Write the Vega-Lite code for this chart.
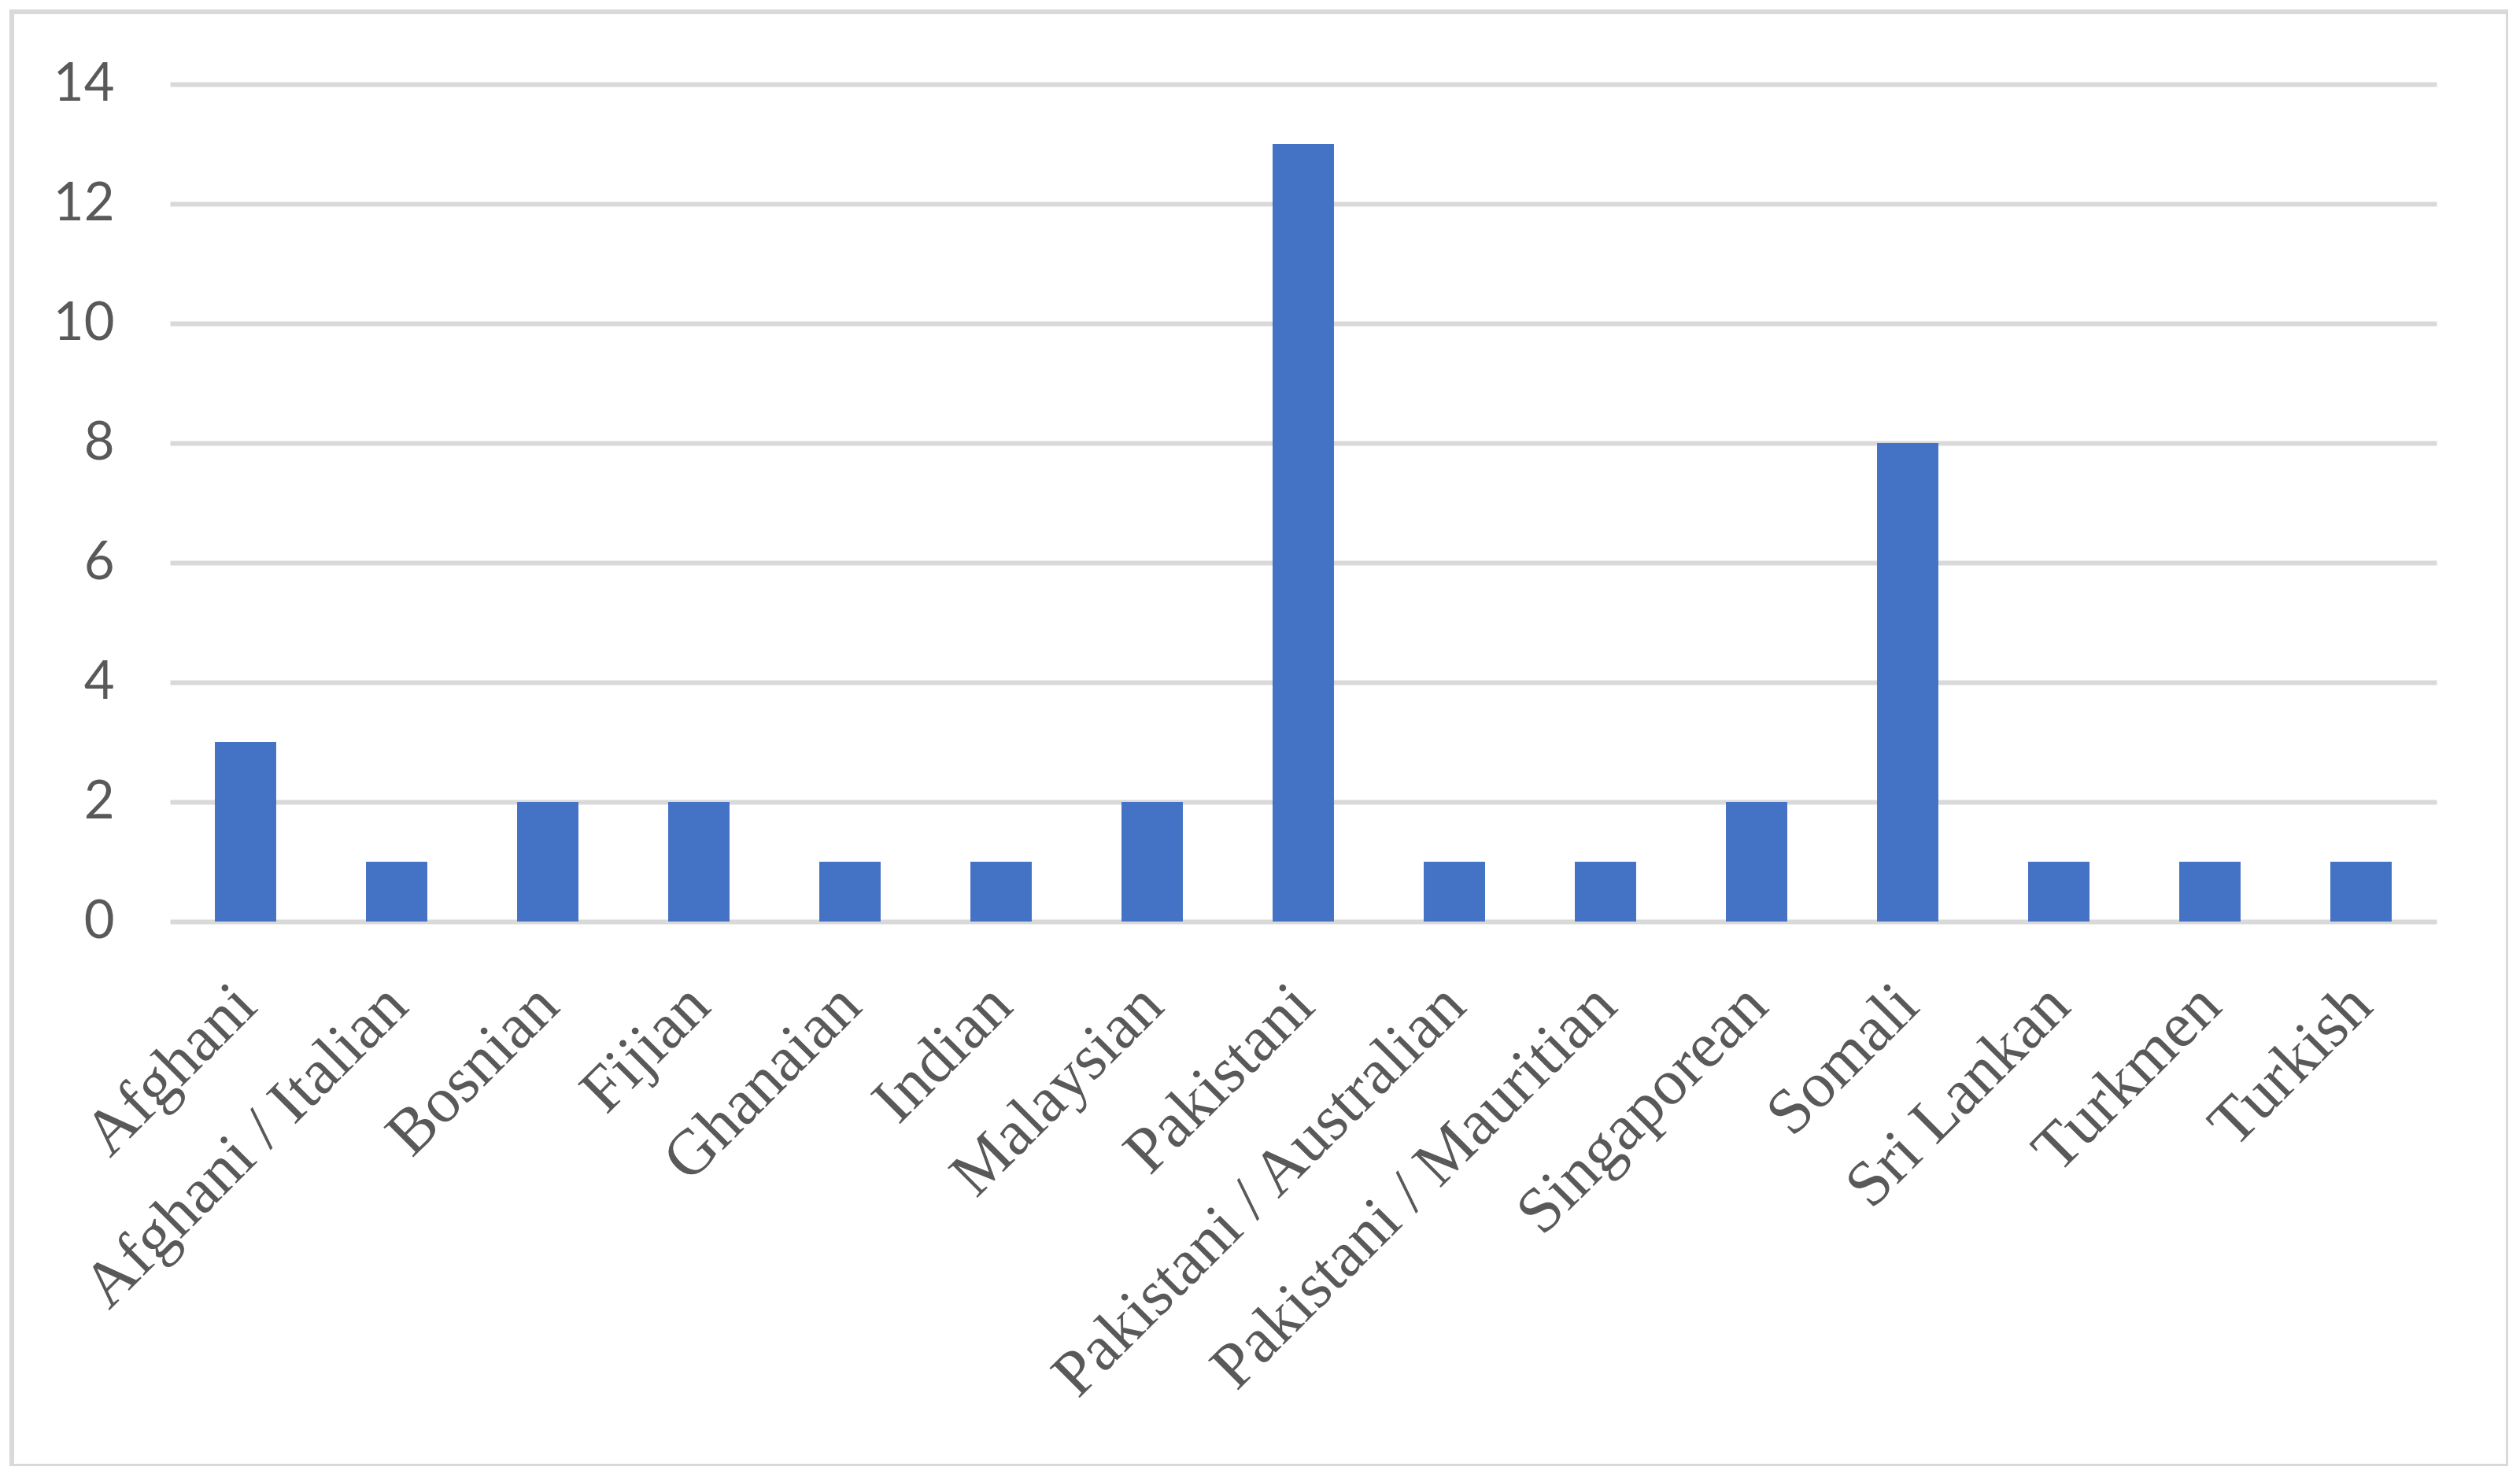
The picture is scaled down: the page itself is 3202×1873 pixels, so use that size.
{
  "$schema": "https://vega.github.io/schema/vega-lite/v6.json",
  "autosize": "none",
  "padding": {"left": 15, "top": 15, "right": 0, "bottom": 0},
  "width": 3172,
  "height": 1848,
  "background": "white",
  "config": {"view": {"stroke": "#d9d9d9", "strokeWidth": 6}},
  "data": {"values": [
    {"nationality": "Afghani", "count": 3},
    {"nationality": "Afghani / Italian", "count": 1},
    {"nationality": "Bosnian", "count": 2},
    {"nationality": "Fijian", "count": 2},
    {"nationality": "Ghanaian", "count": 1},
    {"nationality": "Indian", "count": 1},
    {"nationality": "Malaysian", "count": 2},
    {"nationality": "Pakistani", "count": 13},
    {"nationality": "Pakistani / Australian", "count": 1},
    {"nationality": "Pakistani / Mauritian", "count": 1},
    {"nationality": "Singaporean", "count": 2},
    {"nationality": "Somali", "count": 8},
    {"nationality": "Sri Lankan", "count": 1},
    {"nationality": "Turkmen", "count": 1},
    {"nationality": "Turkish", "count": 1}
  ]},
  "mark": {"type": "bar", "color": "#4472C4"},
  "encoding": {
    "x": {
      "field": "nationality", "type": "nominal", "sort": null,
      "scale": {"range": [201, 3081], "paddingInner": 0.594, "paddingOuter": 0.297},
      "axis": {
        "title": null, "orient": "bottom", "offset": -692,
        "labelAngle": -45, "labelAlign": "right", "labelBaseline": "middle",
        "labelPadding": 93, "labelFont": "Liberation Serif", "labelFontSize": 82,
        "labelColor": "#595959", "domain": false, "ticks": false, "grid": false,
        "labelOverlap": false, "labelLimit": 2000
      }
    },
    "y": {
      "field": "count", "type": "quantitative",
      "scale": {"domain": [0, 14], "range": [1156, 92], "nice": false, "zero": true},
      "axis": {
        "title": null, "values": [0, 2, 4, 6, 8, 10, 12, 14], "offset": -201,
        "domain": false, "ticks": false, "grid": true, "gridColor": "#d9d9d9", "gridWidth": 6,
        "labelFont": "Lato", "labelFontSize": 67, "labelColor": "#595959", "labelPadding": 71
      }
    }
  }
}
